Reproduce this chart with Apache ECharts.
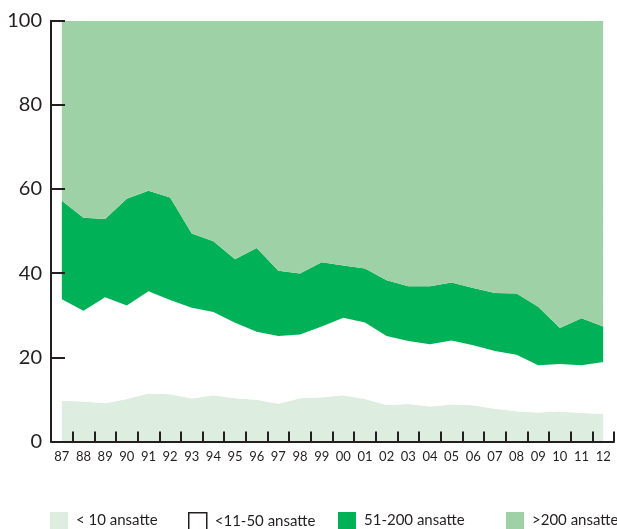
<!DOCTYPE html>
<html>
<head>
<meta charset="utf-8">
<script src="https://cdn.jsdelivr.net/npm/echarts@6/dist/echarts.min.js"></script>
<style>
html,body{margin:0;padding:0;background:#fff;}
#c{width:617px;height:529px;}
</style>
</head>
<body>
<div id="c"></div>
<script>
const years = ['87','88','89','90','91','92','93','94','95','96','97','98','99','00','01','02','03','04','05','06','07','08','09','10','11','12'];
const under10 = [9.7,9.5,9.1,10.1,11.4,11.2,10.2,11.0,10.3,9.9,9.0,10.3,10.5,11.0,10.1,8.7,8.9,8.3,8.8,8.6,7.8,7.2,6.9,7.1,6.8,6.6];
const from11to50 = [24.1,21.6,25.2,22.2,24.3,22.4,21.6,19.8,17.9,16.2,16.1,15.1,16.8,18.4,18.2,16.4,15.0,14.8,15.2,14.3,13.7,13.4,11.2,11.3,11.3,12.3];
const from51to200 = [23.4,22.1,18.6,25.4,23.9,24.4,17.6,16.8,15.1,19.9,15.5,14.5,15.3,12.4,12.8,13.2,13.0,13.8,13.8,13.6,13.8,14.6,13.9,8.6,11.2,8.4];
const over200 = [42.8,46.8,47.1,42.3,40.4,42.0,50.6,52.4,56.7,54.0,59.4,60.1,57.4,58.2,58.9,61.7,63.1,63.1,62.2,63.5,64.7,64.8,68.0,73.0,70.7,72.7];
const seriesNames = ['< 10 ansatte','<11-50 ansatte','51-200 ansatte','>200 ansatte'];
const yTicks = [0,20,40,60,80,100];

const colors = ['#ddeee0','#ffffff','#00b157','#9fd1a6'];
const dataSets = [under10, from11to50, from51to200, over200];
const ink = '#231f20';
const font = 'Lato, "Open Sans", sans-serif';

const chart = echarts.init(document.getElementById('c'), null, {renderer:'canvas'});

const legendLefts = [50, 188, 338, 506];
const legends = seriesNames.map((n,i) => ({
  left: legendLefts[i], top: 512,
  padding: 0,
  itemWidth: 18, itemHeight: 17, itemGap: 0,
  icon: 'rect',
  selectedMode: false,
  textStyle: {fontFamily: font, fontSize: 15, color: ink, padding: [0,0,0,3]},
  data: [i === 1
    ? {name: n, itemStyle: {color: '#ffffff', borderColor: ink, borderWidth: 1.5}}
    : {name: n, itemStyle: {color: colors[i]}}]
}));

chart.setOption({
  animation: false,
  backgroundColor: '#fff',
  legend: legends,
  grid: {left: 51, right: 3, top: 20.7, bottom: 529 - 441.5, containLabel: false},
  xAxis: {
    type: 'category',
    data: years,
    boundaryGap: true,
    z: 10,
    axisLine: {show: true, lineStyle: {color: ink, width: 2}},
    axisTick: {show: true, inside: true, length: 10, lineStyle: {color: ink, width: 2}},
    axisLabel: {fontFamily: font, fontSize: 13, color: ink, margin: 9, interval: 0},
    splitLine: {show: false}
  },
  yAxis: {
    type: 'value',
    min: yTicks[0], max: yTicks[yTicks.length-1], interval: 20,
    z: 10,
    axisLine: {show: true, lineStyle: {color: ink, width: 2}},
    axisTick: {show: true, inside: true, length: 14, lineStyle: {color: ink, width: 2}},
    axisLabel: {fontFamily: font, fontSize: 20, color: ink, margin: 9},
    splitLine: {show: false}
  },
  series: seriesNames.map((n,i) => ({
    name: n,
    type: 'line',
    stack: 'total',
    data: dataSets[i],
    symbol: 'none',
    showSymbol: false,
    lineStyle: {width: 0},
    areaStyle: {color: colors[i], opacity: 1},
    itemStyle: {color: colors[i]},
    z: 2 + i
  }))
});
</script>
</body>
</html>
